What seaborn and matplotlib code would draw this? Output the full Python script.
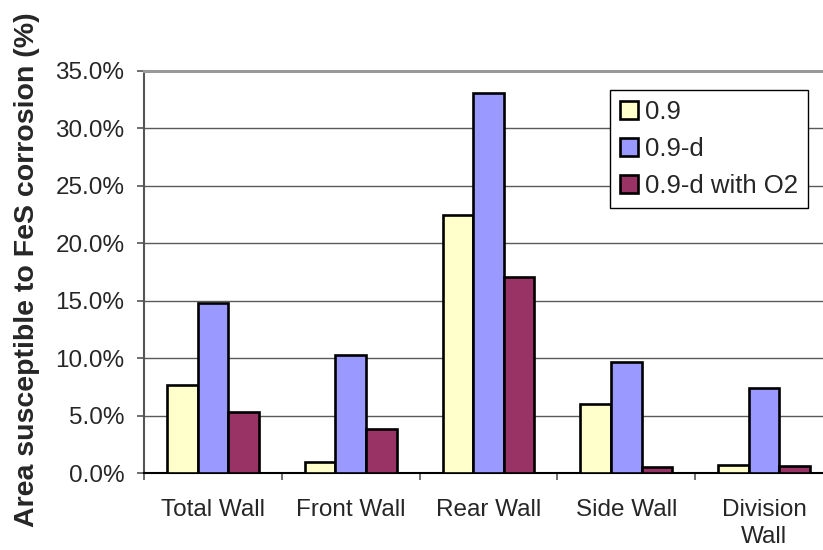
import matplotlib
matplotlib.use("Agg")
import matplotlib.pyplot as plt
from matplotlib.ticker import PercentFormatter, FixedLocator
import seaborn as sns
import pandas as pd

# Wall regions and the share of each wall susceptible to FeS corrosion (%)
walls = ["Total Wall", "Front Wall", "Rear Wall", "Side Wall", "Division\nWall"]
cases = ["0.9", "0.9-d", "0.9-d with O2"]
case_09 = [7.7, 1.0, 22.5, 6.0, 0.7]
case_09d = [14.8, 10.3, 33.1, 9.7, 7.4]
case_09d_o2 = [5.3, 3.8, 17.1, 0.5, 0.6]
colors = ["#FFFFCC", "#9999FF", "#993366"]
y_ticks = [0, 5, 10, 15, 20, 25, 30, 35]

df = pd.DataFrame({
    "wall": walls * 3,
    "case": [c for c in cases for _ in walls],
    "area": case_09 + case_09d + case_09d_o2,
})

sns.set_style("white")
plt.rcParams["font.family"] = ["Liberation Sans", "DejaVu Sans"]

fig = plt.figure(figsize=(8.23, 5.5), dpi=100)
ax = fig.add_axes([144 / 823, 1 - 473 / 550, (833 - 144) / 823, (473 - 71) / 550])

sns.barplot(data=df, x="wall", y="area", hue="case", hue_order=cases,
            palette=colors, width=0.667, gap=0, edgecolor="black",
            linewidth=1.9, saturation=1, ax=ax, zorder=3)

ax.set_ylim(0, 35)
ax.set_xlim(-0.5, len(walls) - 0.5)
ax.yaxis.set_major_locator(FixedLocator(y_ticks))
ax.yaxis.set_major_formatter(PercentFormatter(decimals=1))
ax.grid(axis="y", color="#5a5a5a", linewidth=1.0, zorder=0)
ax.grid(axis="x", visible=False)

ax.spines["right"].set_visible(False)
ax.spines["top"].set_color("#999999")
ax.spines["top"].set_linewidth(2.2)
ax.spines["left"].set_color("#555555")
ax.spines["left"].set_linewidth(1.5)
ax.spines["bottom"].set_color("black")
ax.spines["bottom"].set_linewidth(1.5)

ax.set_xlabel("")
ax.set_ylabel("")
ax.tick_params(axis="y", which="major", direction="out", length=5, width=1.2,
               color="#555555", left=True, pad=9, labelsize=17.5)
ax.tick_params(axis="x", which="major", length=0, pad=19, labelsize=17.5)
ax.set_xticks(range(len(walls)))
ax.set_xticklabels(walls, linespacing=1.3)
ax.set_xticks([i - 0.5 for i in range(len(walls) + 1)], minor=True)
ax.tick_params(axis="x", which="minor", direction="out", length=5, width=1.2,
               color="#555555", bottom=True)

fig.text(27 / 823, 1 - 270 / 550, "Area susceptible to FeS corrosion (%)",
         rotation=90, ha="center", va="center", fontsize=20.5,
         fontweight="bold")

handles, labels = ax.get_legend_handles_labels()
ax.legend(handles, labels, loc="upper right",
          bbox_to_anchor=(808 / 823, 1 - 90 / 550),
          bbox_transform=fig.transFigure, borderaxespad=0,
          fontsize=18.5, frameon=True, fancybox=False, edgecolor="black",
          framealpha=1, handlelength=0.7, handleheight=0.7,
          handletextpad=0.25, labelspacing=0.5, borderpad=0.4)
ax.get_legend().get_frame().set_linewidth(1.0)

fig.savefig("out.png", dpi=100)
